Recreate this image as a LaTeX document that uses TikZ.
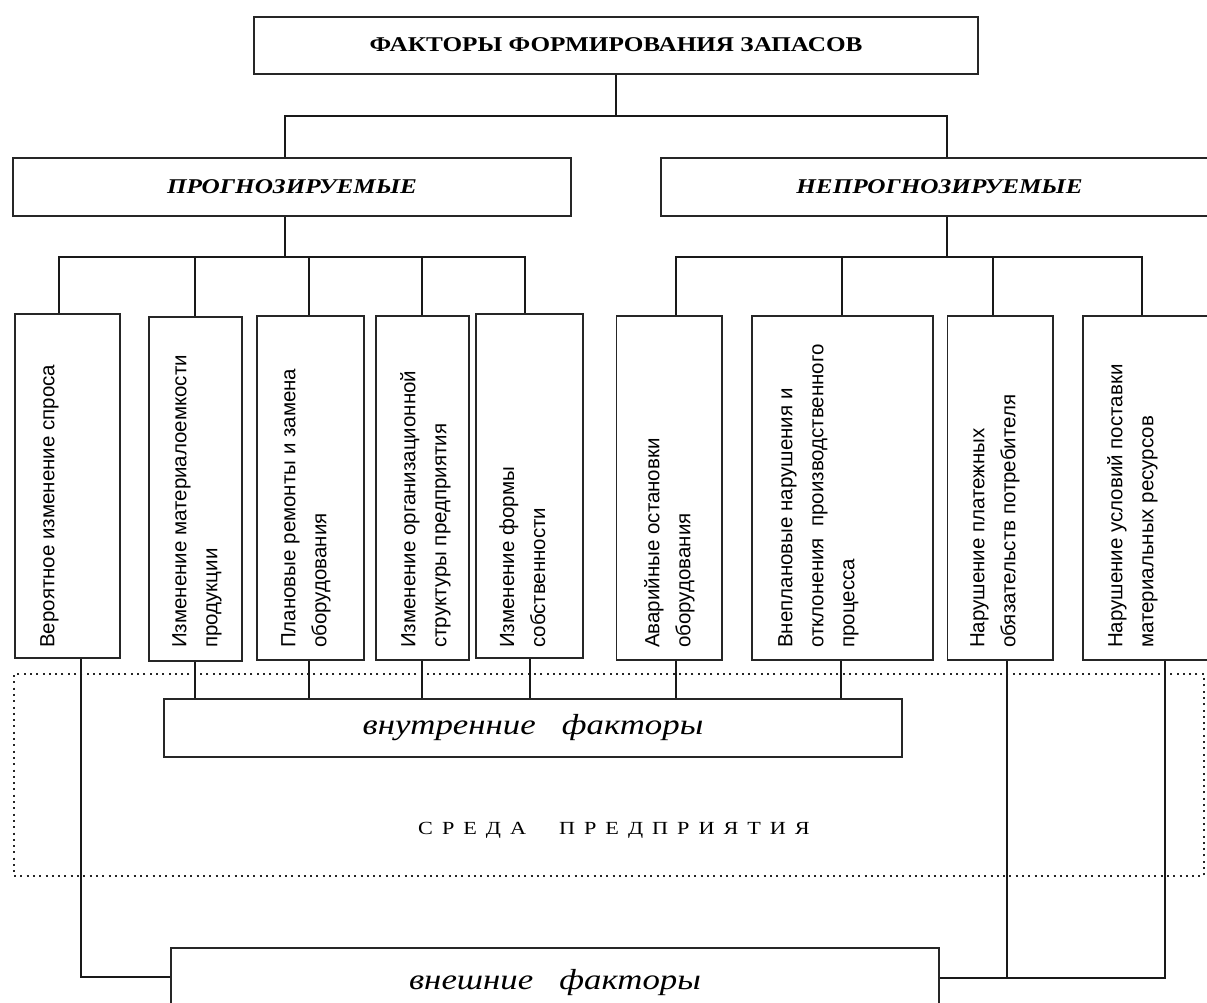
\documentclass[tikz,border=0pt]{standalone}
\usepackage{fontspec}
\setmainfont{Liberation Serif}
\setsansfont{Liberation Sans}
\newfontfamily\wideserif[FakeStretch=1.2]{Liberation Serif}
\usetikzlibrary{calc}
\newcommand{\lsp}{\kern9pt}
\begin{document}
\begin{tikzpicture}[x=1pt,y=-1pt,
  box/.style={draw=black!85, line width=1.6pt, inner sep=0pt},
  vbox/.style={box, anchor=north west, minimum height=344pt},
  conn/.style={line width=1.2pt, draw=black!90},
  vtext/.style={rotate=90, anchor=north west, align=left, inner sep=0pt,
    font=\sffamily\fontsize{20.5}{31}\selectfont},
  envbox/.style={draw=black!85, line width=2pt, dash pattern=on 2pt off 4.3pt, inner sep=0pt, anchor=north west},
]
\fill[white] (0,0) rectangle (1207,1003);
\clip (0,0) rectangle (1207,1003);

% top level
\node[box, minimum width=724pt, minimum height=57pt] (top) at (616,45.5)
  {\wideserif\bfseries\fontsize{21}{24}\selectfont\raisebox{2pt}{ФАКТОРЫ ФОРМИРОВАНИЯ ЗАПАСОВ}};
\node[box, minimum width=558pt, minimum height=58pt] (prog) at (292,187)
  {\wideserif\bfseries\itshape\fontsize{21}{24}\selectfont ПРОГНОЗИРУЕМЫЕ};
\node[box, minimum width=557pt, minimum height=58pt] (neprog) at (939.5,187)
  {\wideserif\bfseries\itshape\fontsize{21}{24}\selectfont НЕПРОГНОЗИРУЕМЫЕ};

% vertical boxes
\node[vbox, minimum width=105pt] (b1) at (14,313) {};
\node[vbox, minimum width=93pt]  (b2) at (148,316) {};
\node[vbox, minimum width=107pt] (b3) at (256,315) {};
\node[vbox, minimum width=93pt]  (b4) at (375,315) {};
\node[vbox, minimum width=107pt] (b5) at (475,313) {};
\node[vbox, minimum width=105.5pt] (b6) at (615.5,315) {};
\node[vbox, minimum width=181pt] (b7) at (751,315) {};
\node[vbox, minimum width=105.5pt] (b8) at (946.5,315) {};
\node[vbox, minimum width=133pt] (b9) at (1082,315) {};

\node[vtext] (t1) at (40,648) {Вероятное изменение спроса};
\node[vtext] (t2) at (172,648) {Изменение материалоемкости\\продукции};
\node[vtext] (t3) at (281,648) {Плановые ремонты и замена\\оборудования};
\node[vtext] (t4) at (400,648) {Изменение организационной\\структуры предприятия};
\node[vtext] (t5) at (499,648) {Изменение формы\\собственности};
\node[vtext] (t6) at (644,648) {Аварийные остановки\\оборудования};
\node[vtext] (t7) at (778,648) {Внеплановые нарушения и\\отклонения\ \ производственного\\процесса};
\node[vtext] (t8) at (970,648) {Нарушение платежных\\обязательств потребителя};
\node[vtext] (t9) at (1107,648) {Нарушение условий поставки\\материальных ресурсов};

% environment
\node[envbox, minimum width=1190pt, minimum height=202pt] (env) at (13,673) {};
\node[inner sep=0pt] (envlabel) at (614,830)
  {\wideserif\fontsize{18.5}{20}\selectfont С\lsp Р\lsp Е\lsp Д\lsp А\hspace{33pt}П\lsp Р\lsp Е\lsp Д\lsp П\lsp Р\lsp И\lsp Я\lsp Т\lsp И\lsp Я};

\node[box, minimum width=738pt, minimum height=58pt] (inner) at (533,728)
  {\wideserif\itshape\fontsize{29}{32}\selectfont внутренние\ \ \ факторы};
\node[box, minimum width=768pt, minimum height=70pt] (outer) at (555,983)
  {\wideserif\itshape\fontsize{29}{32}\selectfont внешние\ \ \ факторы};

% connectors top
\coordinate (j0) at (616,116);
\coordinate (jl) at (285,116);
\coordinate (jr) at (947,116);
\draw[conn] (top.south) -- (top.south |- j0);
\draw[conn] (jl |- prog.north) -- (jl) -- (jr) -- (jr |- neprog.north);

% left bus
\coordinate (bl) at (285,257);
\coordinate (d1) at (59,257);
\coordinate (d2) at (195,257);
\coordinate (d3) at (309,257);
\coordinate (d4) at (422,257);
\coordinate (d5) at (525,257);
\draw[conn] (prog.south -| bl) -- (bl);
\draw[conn] (d1 |- b1.north) -- (d1) -- (d5) -- (d5 |- b5.north);
\draw[conn] (d2) -- (d2 |- b2.north);
\draw[conn] (d3) -- (d3 |- b3.north);
\draw[conn] (d4) -- (d4 |- b4.north);

% right bus
\coordinate (br) at (947,257);
\coordinate (d6) at (676,257);
\coordinate (d7) at (842,257);
\coordinate (d8) at (993,257);
\coordinate (d9) at (1142,257);
\draw[conn] (neprog.south -| br) -- (br);
\draw[conn] (d6 |- b6.north) -- (d6) -- (d9) -- (d9 |- b9.north);
\draw[conn] (d7) -- (d7 |- b7.north);
\draw[conn] (d8) -- (d8 |- b8.north);

% internal factors
\coordinate (u2) at (195,699);
\coordinate (u3) at (309,699);
\coordinate (u4) at (422,699);
\coordinate (u5) at (530,699);
\coordinate (u6) at (676,699);
\coordinate (u7) at (841,699);
\draw[conn] (u2 |- b2.south) -- (u2 |- inner.north);
\draw[conn] (u3 |- b3.south) -- (u3 |- inner.north);
\draw[conn] (u4 |- b4.south) -- (u4 |- inner.north);
\draw[conn] (u5 |- b5.south) -- (u5 |- inner.north);
\draw[conn] (u6 |- b6.south) -- (u6 |- inner.north);
\draw[conn] (u7 |- b7.south) -- (u7 |- inner.north);

% external factors
\coordinate (el) at (81,977);
\coordinate (e8) at (1007,978);
\coordinate (e9) at (1165,978);
\draw[conn] (el |- b1.south) -- (el) -- (el -| outer.west);
\draw[conn] (outer.east |- e9) -- (e9) -- (e9 |- b9.south);
\draw[conn] (e8) -- (e8 |- b8.south);
\end{tikzpicture}
\end{document}
